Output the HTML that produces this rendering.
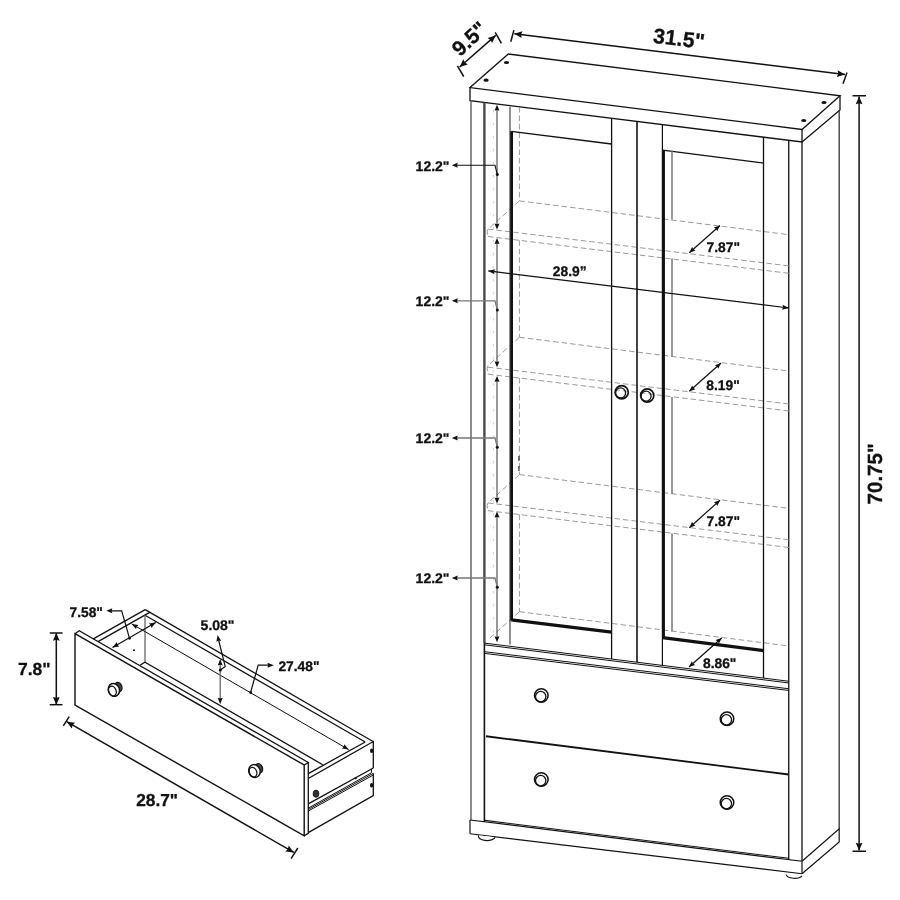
<!DOCTYPE html>
<html><head><meta charset="utf-8"><style>
html,body{margin:0;padding:0;background:#fff;}
svg{display:block;will-change:transform;}
text{text-rendering:geometricPrecision;font-family:"Liberation Sans",sans-serif;font-weight:bold;}
</style></head><body>
<svg width="900" height="900" viewBox="0 0 900 900">
<rect width="900" height="900" fill="#fff"/>
<polygon points="470,87.6 508.3,54 840,95.75 802,129.5" fill="none" stroke="#111" stroke-width="1.3" stroke-linejoin="miter"/>
<polyline points="470,87.6 470,100.6 802,142 802,129.5" fill="none" stroke="#111" stroke-width="1.3" stroke-linejoin="miter"/>
<polyline points="802,142 840,110 840,95.75" fill="none" stroke="#111" stroke-width="1.3" stroke-linejoin="miter"/>
<ellipse cx="506.5" cy="62.5" rx="2.6" ry="1.6" fill="#111" stroke="#111" stroke-width="0"/>
<ellipse cx="486.1" cy="80.2" rx="2.6" ry="1.6" fill="#111" stroke="#111" stroke-width="0"/>
<ellipse cx="824" cy="102.5" rx="2.6" ry="1.6" fill="#111" stroke="#111" stroke-width="0"/>
<ellipse cx="803.75" cy="120.5" rx="2.6" ry="1.6" fill="#111" stroke="#111" stroke-width="0"/>
<line x1="471" y1="100.6" x2="471" y2="820" stroke="#666" stroke-width="1.5" stroke-linecap="butt"/>
<line x1="484.4" y1="102.4" x2="484.4" y2="643.1" stroke="#4a4a4a" stroke-width="2.4" stroke-linecap="butt"/>
<line x1="484.4" y1="643.1" x2="484.4" y2="822" stroke="#111" stroke-width="1.6" stroke-linecap="butt"/>
<line x1="788.75" y1="140.35" x2="788.75" y2="860" stroke="#111" stroke-width="1.3" stroke-linecap="butt"/>
<line x1="802" y1="142" x2="802" y2="861.25" stroke="#111" stroke-width="1.3" stroke-linecap="butt"/>
<line x1="839.2" y1="110" x2="839.2" y2="828.75" stroke="#333" stroke-width="1.3" stroke-linecap="butt"/>
<line x1="484.4" y1="643.1" x2="788.75" y2="681.25" stroke="#111" stroke-width="1.0" stroke-linecap="butt"/>
<line x1="484.4" y1="651.7" x2="788.75" y2="688.75" stroke="#111" stroke-width="1.0" stroke-linecap="butt"/>
<line x1="484.4" y1="644.8" x2="788.75" y2="682.95" stroke="#111" stroke-width="1.0" stroke-linecap="butt"/>
<line x1="484.4" y1="653.4" x2="788.75" y2="690.45" stroke="#111" stroke-width="1.0" stroke-linecap="butt"/>
<line x1="519.4" y1="200.9" x2="788.8" y2="234.68" stroke="#9a9a9a" stroke-width="1" stroke-dasharray="5.5 3" stroke-linecap="butt"/>
<line x1="488" y1="229.09" x2="788.8" y2="265.91" stroke="#9a9a9a" stroke-width="1" stroke-dasharray="5.5 3" stroke-linecap="butt"/>
<line x1="488" y1="236.49" x2="788.8" y2="273.31" stroke="#9a9a9a" stroke-width="1" stroke-dasharray="5.5 3" stroke-linecap="butt"/>
<path d="M519.4,200.9 L487.8,229.4 Q486.4,231.9 487.8,235.2" fill="none" stroke="#9a9a9a" stroke-width="1" stroke-dasharray="5.5 3"/>
<line x1="519.4" y1="337.3" x2="788.8" y2="371.08" stroke="#9a9a9a" stroke-width="1" stroke-dasharray="5.5 3" stroke-linecap="butt"/>
<line x1="488" y1="367.18" x2="788.8" y2="404" stroke="#9a9a9a" stroke-width="1" stroke-dasharray="5.5 3" stroke-linecap="butt"/>
<line x1="488" y1="374.18" x2="788.8" y2="411" stroke="#9a9a9a" stroke-width="1" stroke-dasharray="5.5 3" stroke-linecap="butt"/>
<path d="M519.4,337.3 L487.8,365.8 Q486.4,368.3 487.8,371.6" fill="none" stroke="#9a9a9a" stroke-width="1" stroke-dasharray="5.5 3"/>
<line x1="519.4" y1="474.6" x2="788.8" y2="508.38" stroke="#9a9a9a" stroke-width="1" stroke-dasharray="5.5 3" stroke-linecap="butt"/>
<line x1="488" y1="502.98" x2="788.8" y2="539.8" stroke="#9a9a9a" stroke-width="1" stroke-dasharray="5.5 3" stroke-linecap="butt"/>
<line x1="488" y1="510.68" x2="788.8" y2="547.5" stroke="#9a9a9a" stroke-width="1" stroke-dasharray="5.5 3" stroke-linecap="butt"/>
<path d="M519.4,474.6 L487.8,503.1 Q486.4,505.6 487.8,508.9" fill="none" stroke="#9a9a9a" stroke-width="1" stroke-dasharray="5.5 3"/>
<line x1="519.4" y1="611.7" x2="788.8" y2="646" stroke="#9a9a9a" stroke-width="1" stroke-dasharray="5.5 3" stroke-linecap="butt"/>
<line x1="519.4" y1="611.7" x2="488.9" y2="638.9" stroke="#9a9a9a" stroke-width="1" stroke-dasharray="5.5 3" stroke-linecap="butt"/>
<line x1="519.4" y1="107" x2="519.4" y2="200.9" stroke="#9a9a9a" stroke-width="1" stroke-dasharray="5.5 3" stroke-linecap="butt"/>
<line x1="519.4" y1="240.3" x2="519.4" y2="337.3" stroke="#9a9a9a" stroke-width="1" stroke-dasharray="5.5 3" stroke-linecap="butt"/>
<line x1="519.4" y1="378" x2="519.4" y2="474.6" stroke="#9a9a9a" stroke-width="1" stroke-dasharray="5.5 3" stroke-linecap="butt"/>
<line x1="519.4" y1="514.5" x2="519.4" y2="611.7" stroke="#9a9a9a" stroke-width="1" stroke-dasharray="5.5 3" stroke-linecap="butt"/>
<line x1="518.9" y1="456" x2="518.9" y2="471" stroke="#333" stroke-width="1.2" stroke-dasharray="5 5" stroke-linecap="butt"/>
<line x1="493.3" y1="110" x2="493.3" y2="640" stroke="#cfcfcf" stroke-width="1" stroke-dasharray="2.5 10.5" stroke-linecap="butt"/>
<line x1="510" y1="106.7" x2="510" y2="644.4" stroke="#444" stroke-width="1.2" stroke-linecap="butt"/>
<line x1="511.6" y1="131.3" x2="511.6" y2="620.5" stroke="#111" stroke-width="2.8" stroke-linecap="butt"/>
<line x1="511.3" y1="131.3" x2="611.5" y2="144" stroke="#111" stroke-width="1.3" stroke-linecap="butt"/>
<line x1="511.3" y1="619.8" x2="611.5" y2="632.2" stroke="#111" stroke-width="3.3" stroke-linecap="butt"/>
<line x1="611.6" y1="118.26" x2="611.6" y2="659.04" stroke="#111" stroke-width="1.3" stroke-linecap="butt"/>
<line x1="637" y1="121.42" x2="637" y2="662.23" stroke="#111" stroke-width="1.6" stroke-linecap="butt"/>
<line x1="662.4" y1="124.59" x2="662.4" y2="665.41" stroke="#111" stroke-width="1.2" stroke-linecap="butt"/>
<line x1="663.5" y1="150.2" x2="663.5" y2="638.5" stroke="#111" stroke-width="2.9" stroke-linecap="butt"/>
<line x1="662.5" y1="150.2" x2="764" y2="163.2" stroke="#111" stroke-width="1.3" stroke-linecap="butt"/>
<line x1="662.5" y1="637.6" x2="764" y2="650.6" stroke="#111" stroke-width="3.4" stroke-linecap="butt"/>
<line x1="672" y1="150.7" x2="672" y2="219.5" stroke="#777" stroke-width="1.5" stroke-linecap="butt"/>
<line x1="672" y1="258.5" x2="672" y2="357" stroke="#777" stroke-width="1.5" stroke-linecap="butt"/>
<line x1="672" y1="397" x2="672" y2="494" stroke="#777" stroke-width="1.5" stroke-linecap="butt"/>
<line x1="672" y1="533.5" x2="672" y2="631.3" stroke="#777" stroke-width="1.5" stroke-linecap="butt"/>
<line x1="763.5" y1="137.2" x2="763.5" y2="678.08" stroke="#111" stroke-width="1.3" stroke-linecap="butt"/>
<circle cx="621.7" cy="392.2" r="6.6" fill="none" stroke="#111" stroke-width="1.7"/>
<circle cx="620.6" cy="392.9" r="5" fill="none" stroke="#111" stroke-width="1.3"/>
<circle cx="647.2" cy="395.5" r="6.6" fill="none" stroke="#111" stroke-width="1.7"/>
<circle cx="646.1" cy="396.2" r="5" fill="none" stroke="#111" stroke-width="1.3"/>
<line x1="486" y1="736.25" x2="788.75" y2="774.5" stroke="#111" stroke-width="1.8" stroke-linecap="butt"/>
<line x1="470" y1="820" x2="802" y2="861.25" stroke="#111" stroke-width="1.2" stroke-linecap="butt"/>
<line x1="485" y1="820.4" x2="788.75" y2="858.3" stroke="#111" stroke-width="1.1" stroke-linecap="butt"/>
<line x1="470" y1="833.75" x2="802" y2="873.75" stroke="#111" stroke-width="1.2" stroke-linecap="butt"/>
<line x1="470" y1="820" x2="470" y2="833.75" stroke="#111" stroke-width="1.2" stroke-linecap="butt"/>
<polyline points="802,861.25 839.2,828.75 839.2,842 802,873.75" fill="none" stroke="#111" stroke-width="1.2" stroke-linejoin="miter"/>
<line x1="802" y1="861.25" x2="802" y2="873.75" stroke="#111" stroke-width="1.2" stroke-linecap="butt"/>
<path d="M478.6,835.2 A8.3,4.2 0 0 0 495.2,837.2" fill="#fff" stroke="#111" stroke-width="1.2"/>
<path d="M786.2,874.7 A8.3,4.2 0 0 0 802,875.8" fill="#fff" stroke="#111" stroke-width="1.2"/>
<circle cx="541.3" cy="695.5" r="6.8" fill="none" stroke="#111" stroke-width="1.5"/>
<circle cx="540.7" cy="696.6" r="5.2" fill="none" stroke="#111" stroke-width="1.3"/>
<circle cx="727" cy="718.75" r="6.8" fill="none" stroke="#111" stroke-width="1.5"/>
<circle cx="726.4" cy="719.85" r="5.2" fill="none" stroke="#111" stroke-width="1.3"/>
<circle cx="541.3" cy="779.5" r="6.8" fill="none" stroke="#111" stroke-width="1.5"/>
<circle cx="540.7" cy="780.6" r="5.2" fill="none" stroke="#111" stroke-width="1.3"/>
<circle cx="727" cy="802.5" r="6.8" fill="none" stroke="#111" stroke-width="1.5"/>
<circle cx="726.4" cy="803.6" r="5.2" fill="none" stroke="#111" stroke-width="1.3"/>
<line x1="497" y1="107.7" x2="497" y2="226.6" stroke="#555" stroke-width="1.2" stroke-linecap="butt"/>
<polygon points="497,104.7 499.5,110.7 497,109.98 494.5,110.7" fill="#111"/>
<polygon points="497,229.6 494.5,223.6 497,224.32 499.5,223.6" fill="#111"/>
<line x1="497" y1="241.1" x2="497" y2="364.3" stroke="#555" stroke-width="1.2" stroke-linecap="butt"/>
<polygon points="497,238.1 499.5,244.1 497,243.38 494.5,244.1" fill="#111"/>
<polygon points="497,367.3 494.5,361.3 497,362.02 499.5,361.3" fill="#111"/>
<line x1="497" y1="379" x2="497" y2="500.5" stroke="#555" stroke-width="1.2" stroke-linecap="butt"/>
<polygon points="497,376 499.5,382 497,381.28 494.5,382" fill="#111"/>
<polygon points="497,503.5 494.5,497.5 497,498.22 499.5,497.5" fill="#111"/>
<line x1="497" y1="514.6" x2="497" y2="639.2" stroke="#555" stroke-width="1.2" stroke-linecap="butt"/>
<polygon points="497,511.6 499.5,517.6 497,516.88 494.5,517.6" fill="#111"/>
<polygon points="497,642.2 494.5,636.2 497,636.92 499.5,636.2" fill="#111"/>
<polyline points="455,165.3 495,165.3 497.3,174.5" fill="none" stroke="#111" stroke-width="1.1" stroke-linejoin="miter"/>
<polygon points="451.8,165.3 457.8,162.8 457.08,165.3 457.8,167.8" fill="#111"/>
<circle cx="497.3" cy="174.5" r="1.5" fill="#111" stroke="#111" stroke-width="0"/>
<text x="415.6" y="170.8" font-size="14" text-anchor="start" fill="#111" stroke="#111" stroke-width="0.3">12.2&quot;</text>
<polyline points="455,300.8 495,300.8 497.3,310" fill="none" stroke="#777" stroke-width="1.3" stroke-linejoin="miter"/>
<polygon points="451.8,300.8 457.8,298.3 457.08,300.8 457.8,303.3" fill="#111"/>
<circle cx="497.3" cy="310" r="1.5" fill="#111" stroke="#111" stroke-width="0"/>
<text x="415.6" y="306" font-size="14" text-anchor="start" fill="#111" stroke="#111" stroke-width="0.3">12.2&quot;</text>
<polyline points="455,438 495,438 497.3,447.2" fill="none" stroke="#777" stroke-width="1.3" stroke-linejoin="miter"/>
<polygon points="451.8,438 457.8,435.5 457.08,438 457.8,440.5" fill="#111"/>
<circle cx="497.3" cy="447.2" r="1.5" fill="#111" stroke="#111" stroke-width="0"/>
<text x="415.6" y="443.2" font-size="14" text-anchor="start" fill="#111" stroke="#111" stroke-width="0.3">12.2&quot;</text>
<polyline points="455,578 495,578 497.3,587.2" fill="none" stroke="#777" stroke-width="1.3" stroke-linejoin="miter"/>
<polygon points="451.8,578 457.8,575.5 457.08,578 457.8,580.5" fill="#111"/>
<circle cx="497.3" cy="587.2" r="1.5" fill="#111" stroke="#111" stroke-width="0"/>
<text x="415.6" y="583.2" font-size="14" text-anchor="start" fill="#111" stroke="#111" stroke-width="0.3">12.2&quot;</text>
<line x1="488.3" y1="270.9" x2="788.8" y2="308" stroke="#111" stroke-width="1.2" stroke-linecap="butt"/>
<polygon points="488.3,270.9 495.06,269.22 493.98,271.6 494.44,274.18" fill="#111"/>
<polygon points="788.8,308 782.04,309.68 783.12,307.3 782.66,304.72" fill="#111"/>
<text x="552.8" y="276.3" font-size="13.8" text-anchor="start" fill="#111" stroke="#111" stroke-width="0.3">28.9”</text>
<line x1="689.3" y1="252.7" x2="720" y2="225.5" stroke="#111" stroke-width="1.2" stroke-linecap="butt"/>
<polygon points="689.3,252.7 692.13,246.85 693.25,249.2 695.45,250.59" fill="#111"/>
<polygon points="720,225.5 717.17,231.35 716.05,229 713.85,227.61" fill="#111"/>
<text x="706.6" y="252.1" font-size="13.8" text-anchor="start" fill="#111" stroke="#111" stroke-width="0.3">7.87&quot;</text>
<line x1="689.3" y1="391.3" x2="721" y2="363" stroke="#111" stroke-width="1.2" stroke-linecap="butt"/>
<polygon points="689.3,391.3 692.11,385.44 693.24,387.78 695.44,389.17" fill="#111"/>
<polygon points="721,363 718.19,368.86 717.06,366.52 714.86,365.13" fill="#111"/>
<text x="706.3" y="390.1" font-size="13.8" text-anchor="start" fill="#111" stroke="#111" stroke-width="0.3">8.19&quot;</text>
<line x1="689.3" y1="527.7" x2="720" y2="500.2" stroke="#111" stroke-width="1.2" stroke-linecap="butt"/>
<polygon points="689.3,527.7 692.1,521.83 693.23,524.18 695.44,525.56" fill="#111"/>
<polygon points="720,500.2 717.2,506.07 716.07,503.72 713.86,502.34" fill="#111"/>
<text x="706.6" y="526.1" font-size="13.8" text-anchor="start" fill="#111" stroke="#111" stroke-width="0.3">7.87&quot;</text>
<line x1="689" y1="667" x2="721.7" y2="638" stroke="#111" stroke-width="1.2" stroke-linecap="butt"/>
<polygon points="689,667 691.83,661.15 692.95,663.5 695.15,664.89" fill="#111"/>
<polygon points="721.7,638 718.87,643.85 717.75,641.5 715.55,640.11" fill="#111"/>
<text x="703" y="667.8" font-size="13.8" text-anchor="start" fill="#111" stroke="#111" stroke-width="0.3">8.86&quot;</text>
<line x1="459.7" y1="67" x2="495.7" y2="35.4" stroke="#111" stroke-width="1.5" stroke-linecap="butt"/>
<polygon points="459.7,67 463.32,59.3 464.86,62.47 467.8,64.41" fill="#111"/>
<polygon points="495.7,35.4 492.08,43.1 490.54,39.93 487.6,37.99" fill="#111"/>
<line x1="457.4" y1="65.8" x2="463.7" y2="76.5" stroke="#111" stroke-width="1.5" stroke-linecap="butt"/>
<line x1="495.2" y1="32.3" x2="501.4" y2="43.3" stroke="#111" stroke-width="1.5" stroke-linecap="butt"/>
<text x="474.3" y="44" font-size="21" text-anchor="middle" fill="#111" stroke="#111" stroke-width="0.3" transform="rotate(-43 474.3 44)">9.5&quot;</text>
<line x1="514.3" y1="33.7" x2="845" y2="74.5" stroke="#111" stroke-width="1.5" stroke-linecap="butt"/>
<polygon points="514.3,33.7 522.46,31.28 521.11,34.54 521.62,38.03" fill="#111"/>
<polygon points="845,74.5 836.84,76.92 838.19,73.66 837.68,70.17" fill="#111"/>
<line x1="510.8" y1="41.7" x2="513.9" y2="30.1" stroke="#111" stroke-width="1.5" stroke-linecap="butt"/>
<line x1="843" y1="83.75" x2="847" y2="72.5" stroke="#111" stroke-width="1.5" stroke-linecap="butt"/>
<text x="678.1" y="45.8" font-size="21.3" text-anchor="middle" fill="#111" stroke="#111" stroke-width="0.3" transform="rotate(7 678.1 45.8)">31.5&quot;</text>
<line x1="859.1" y1="96.5" x2="859.1" y2="850.5" stroke="#111" stroke-width="1.5" stroke-linecap="butt"/>
<polygon points="859.1,96.5 862.5,104.3 859.1,103.36 855.7,104.3" fill="#111"/>
<polygon points="859.1,850.5 855.7,842.7 859.1,843.64 862.5,842.7" fill="#111"/>
<line x1="852.5" y1="95.75" x2="866" y2="95.75" stroke="#111" stroke-width="1.5" stroke-linecap="butt"/>
<line x1="852.5" y1="851.25" x2="866" y2="851.25" stroke="#111" stroke-width="1.5" stroke-linecap="butt"/>
<text x="882.2" y="504.4" font-size="20.5" text-anchor="start" fill="#111" stroke="#111" stroke-width="0.3" transform="rotate(-90 882.2 504.4)">70.75&quot;</text>
<polygon points="75,633.7 304.2,765 304.2,835.8 75,705" fill="none" stroke="#111" stroke-width="1.4" stroke-linejoin="miter"/>
<polyline points="75,633.7 79.2,630.8 308.3,762.5 304.2,765" fill="none" stroke="#111" stroke-width="1.3" stroke-linejoin="miter"/>
<polyline points="308.3,762.5 308.3,833.3 304.2,835.8" fill="none" stroke="#111" stroke-width="1.3" stroke-linejoin="miter"/>
<line x1="145.2" y1="609.6" x2="93.3" y2="638.9" stroke="#111" stroke-width="1.3" stroke-linecap="butt"/>
<line x1="149.7" y1="612.4" x2="98" y2="641.6" stroke="#111" stroke-width="1.3" stroke-linecap="butt"/>
<line x1="145.2" y1="609.6" x2="373" y2="741.5" stroke="#111" stroke-width="1.3" stroke-linecap="butt"/>
<line x1="145" y1="615.3" x2="365.2" y2="742" stroke="#111" stroke-width="1.3" stroke-linecap="butt"/>
<line x1="145" y1="615.3" x2="145" y2="662.2" stroke="#666" stroke-width="1.3" stroke-linecap="butt"/>
<polyline points="140.3,665 145,662.2 322.7,764.7" fill="none" stroke="#111" stroke-width="1.3" stroke-linejoin="miter"/>
<polyline points="308.7,778.3 373.3,741.5 373.3,768" fill="none" stroke="#111" stroke-width="1.3" stroke-linejoin="miter"/>
<polyline points="373.3,773.3 373.3,795.6 308.7,832.4" fill="none" stroke="#111" stroke-width="1.3" stroke-linejoin="miter"/>
<line x1="365.2" y1="742" x2="308.3" y2="773.6" stroke="#111" stroke-width="1.3" stroke-linecap="butt"/>
<line x1="308.7" y1="803.6" x2="373.3" y2="768" stroke="#111" stroke-width="1.3" stroke-linecap="butt"/>
<line x1="308.7" y1="807.9" x2="371.4" y2="772.8" stroke="#111" stroke-width="1.0" stroke-linecap="butt"/>
<line x1="308.7" y1="809.3" x2="373.3" y2="773.3" stroke="#111" stroke-width="1.0" stroke-linecap="butt"/>
<line x1="308.7" y1="810.8" x2="373.3" y2="775" stroke="#111" stroke-width="1.0" stroke-linecap="butt"/>
<line x1="371.4" y1="768.9" x2="371.4" y2="772.8" stroke="#111" stroke-width="1.0" stroke-linecap="butt"/>
<ellipse cx="355.6" cy="778.3" rx="1.2" ry="1" fill="#111" stroke="#111" stroke-width="0"/>
<ellipse cx="371.6" cy="750.7" rx="1.6" ry="2.2" fill="#111" stroke="#111" stroke-width="0"/>
<ellipse cx="371.6" cy="785.3" rx="1.6" ry="2.2" fill="#111" stroke="#111" stroke-width="0"/>
<ellipse cx="316" cy="793.7" rx="2.9" ry="3.6" fill="#333" stroke="#111" stroke-width="0.8"/>
<circle cx="134" cy="650.3" r="1" fill="#111" stroke="#111" stroke-width="0"/>
<ellipse cx="118.3" cy="687.1" rx="3.6" ry="4.8" transform="rotate(-20 118.3 687.1)" fill="#444" stroke="#111" stroke-width="1.2"/>
<ellipse cx="113.9" cy="689.9" rx="5.6" ry="6.5" transform="rotate(-20 113.9 689.9)" fill="#fff" stroke="#111" stroke-width="1.5"/>
<ellipse cx="112.4" cy="691.1" rx="3.7" ry="5.0" transform="rotate(-20 112.4 691.1)" fill="none" stroke="#111" stroke-width="1.3"/>
<ellipse cx="258.9" cy="768.2" rx="3.6" ry="4.8" transform="rotate(-20 258.9 768.2)" fill="#444" stroke="#111" stroke-width="1.2"/>
<ellipse cx="254.5" cy="771" rx="5.6" ry="6.5" transform="rotate(-20 254.5 771)" fill="#fff" stroke="#111" stroke-width="1.5"/>
<ellipse cx="253" cy="772.2" rx="3.7" ry="5.0" transform="rotate(-20 253 772.2)" fill="none" stroke="#111" stroke-width="1.3"/>
<line x1="56.3" y1="633" x2="56.3" y2="704.7" stroke="#111" stroke-width="1.5" stroke-linecap="butt"/>
<polygon points="56.3,633 59.7,640.8 56.3,639.86 52.9,640.8" fill="#111"/>
<polygon points="56.3,704.7 52.9,696.9 56.3,697.84 59.7,696.9" fill="#111"/>
<line x1="49.7" y1="633" x2="62.5" y2="633" stroke="#111" stroke-width="1.5" stroke-linecap="butt"/>
<line x1="49.7" y1="704.7" x2="62.5" y2="704.7" stroke="#111" stroke-width="1.5" stroke-linecap="butt"/>
<text x="18" y="675" font-size="17.5" text-anchor="start" fill="#111" stroke="#111" stroke-width="0.3">7.8&quot;</text>
<line x1="66.7" y1="721.7" x2="293.8" y2="852.4" stroke="#111" stroke-width="1.5" stroke-linecap="butt"/>
<polygon points="66.7,721.7 75.16,722.64 72.65,725.12 71.76,728.54" fill="#111"/>
<polygon points="293.8,852.4 285.34,851.46 287.85,848.98 288.74,845.56" fill="#111"/>
<line x1="63.3" y1="725.8" x2="69.2" y2="716.7" stroke="#111" stroke-width="1.5" stroke-linecap="butt"/>
<line x1="291.1" y1="858.7" x2="297.8" y2="848" stroke="#111" stroke-width="1.5" stroke-linecap="butt"/>
<text x="136.2" y="805.9" font-size="17.3" text-anchor="start" fill="#111" stroke="#111" stroke-width="0.3">28.7&quot;</text>
<line x1="112.5" y1="647.5" x2="155.8" y2="622.5" stroke="#111" stroke-width="1.2" stroke-linecap="butt"/>
<polygon points="112.5,647.5 116.88,642.08 117.45,644.64 119.38,646.41" fill="#111"/>
<polygon points="155.8,622.5 151.42,627.92 150.85,625.36 148.92,623.59" fill="#111"/>
<polyline points="129.5,638.3 121.7,610.8 110,610.8" fill="none" stroke="#111" stroke-width="1.2" stroke-linejoin="miter"/>
<polygon points="106.3,610.8 112.3,608.3 111.58,610.8 112.3,613.3" fill="#111"/>
<circle cx="129.5" cy="638.3" r="1.4" fill="#111" stroke="#111" stroke-width="0"/>
<text x="69.5" y="616.5" font-size="13.8" text-anchor="start" fill="#111" stroke="#111" stroke-width="0.3">7.58&quot;</text>
<line x1="131.7" y1="623.9" x2="348.7" y2="749.6" stroke="#111" stroke-width="1.0" stroke-linecap="butt"/>
<polygon points="131.7,623.9 138.58,624.99 136.65,626.77 136.07,629.32" fill="#111"/>
<polygon points="348.7,749.6 341.82,748.51 343.75,746.73 344.33,744.18" fill="#111"/>
<polyline points="250.6,692.5 258.2,665.1 270,665.1" fill="none" stroke="#111" stroke-width="1.2" stroke-linejoin="miter"/>
<polygon points="273.9,665.2 267.4,667.7 268.18,665.2 267.4,662.7" fill="#111"/>
<circle cx="250.6" cy="692.5" r="1.4" fill="#111" stroke="#111" stroke-width="0"/>
<text x="278.4" y="671.2" font-size="13.8" text-anchor="start" fill="#111" stroke="#111" stroke-width="0.3">27.48&quot;</text>
<line x1="220.2" y1="662" x2="220.2" y2="701" stroke="#666" stroke-width="1.3" stroke-linecap="butt"/>
<polygon points="220.2,659 222.7,665.5 220.2,664.72 217.7,665.5" fill="#111"/>
<polygon points="220.2,704.2 217.7,697.7 220.2,698.48 222.7,697.7" fill="#111"/>
<polyline points="220.3,670 225.2,666.4 218.6,640" fill="none" stroke="#111" stroke-width="1.2" stroke-linejoin="miter"/>
<polygon points="217.6,635 221.27,640.92 218.67,640.62 216.36,641.85" fill="#111"/>
<circle cx="220.3" cy="670" r="1.6" fill="#111" stroke="#111" stroke-width="0"/>
<text x="200.6" y="630" font-size="14" text-anchor="start" fill="#111" stroke="#111" stroke-width="0.3">5.08&quot;</text>
</svg>
</body></html>
